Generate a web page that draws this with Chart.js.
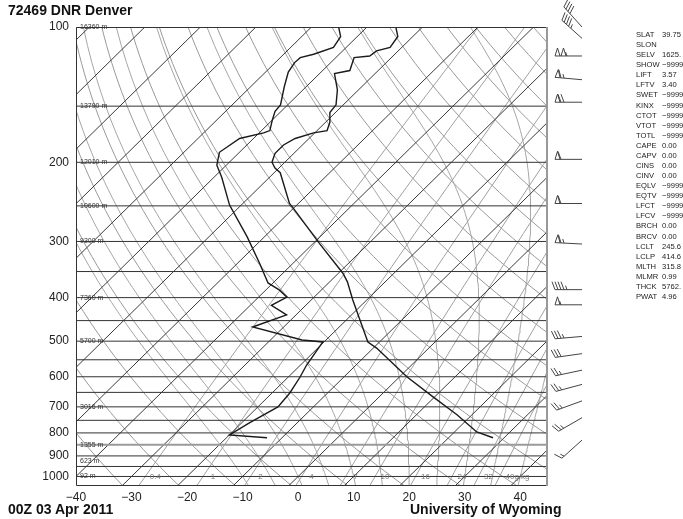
<!DOCTYPE html>
<html>
<head>
<meta charset="utf-8">
<script src="https://cdn.jsdelivr.net/npm/chart.js@4.4.0/dist/chart.umd.min.js"></script>
<style>
body { margin: 0; background: #fff; font-family: Arial, "Liberation Sans", sans-serif; }
#wrap { position: relative; width: 683px; height: 519px; overflow: hidden; }
canvas { position: absolute; left: 0; top: 0; }
.t { position: absolute; font-weight: bold; font-size: 14px; color: #111; white-space: nowrap; }
#stats { position: absolute; left: 636px; top: 30px; font-size: 7.6px; line-height: 10.08px; color: #222; white-space: nowrap; }
#stats span { display: inline-block; width: 26px; }
</style>
</head>
<body>
<div id="wrap">
  <canvas id="skewt" width="683" height="519"></canvas>
  <div class="t" style="left:8px;top:2px">72469 DNR Denver</div>
  <div class="t" style="left:8px;top:501px">00Z 03 Apr 2011</div>
  <div class="t" style="left:410px;top:501px">University of Wyoming</div>
  <div id="stats"></div>
</div>
<script>
// sounding
var tempP = [820, 796, 729, 665, 600, 518, 502, 449, 405, 369, 353, 303, 252, 247, 211, 206, 200, 191, 183, 177, 172, 170, 163, 155, 149, 138, 127, 125, 117, 116, 113, 111, 105, 100];
var tempT = [28.0, 24.0, 17.3, 9.7, 1.3, -9.4, -12.1, -17.5, -22.5, -26.8, -29.2, -38.9, -50.3, -51.6, -58.9, -60.7, -62.3, -63.4, -63.4, -62.5, -60.2, -58.2, -59.2, -61.0, -61.3, -63.8, -67.3, -65.1, -66.7, -64.2, -63.9, -62.1, -62.7, -64.8];
var dewP = [820, 808, 760, 700, 652, 600, 565, 502, 497, 465, 437, 416, 399, 385, 371, 335, 293, 249, 216, 203, 190, 177, 172, 170, 161, 154, 149, 136, 126, 120, 117, 115, 111, 105, 100];
var dewT = [-12.7, -20.0, -18.6, -16.4, -16.8, -17.9, -18.9, -20.2, -24.3, -35.6, -31.7, -36.2, -34.9, -37.5, -40.9, -46.1, -53.1, -62.1, -68.6, -71.7, -73.6, -72.5, -69.2, -68.5, -70.0, -71.1, -71.3, -73.9, -75.9, -76.5, -76.4, -74.6, -72.3, -73.0, -75.1];

// winds (direction deg, speed kt)
var windP = [100, 106, 116, 131, 147, 197, 247, 304, 384, 415, 488, 533, 580, 624, 679, 740, 830];
var windDir = [318, 312, 270, 275, 270, 270, 270, 273, 270, 270, 265, 262, 258, 255, 250, 240, 228];
var windSpd = [40, 45, 105, 65, 70, 60, 60, 65, 45, 55, 35, 30, 25, 25, 25, 25, 15];

// mandatory level heights
var hgtP = [1000, 925, 850, 700, 500, 400, 300, 250, 200, 150, 100];
var hgtM = [92, 623, 1355, 3016, 5700, 7360, 9300, 10600, 12010, 13790, 16360];

// background lines
var isobars = [100, 150, 200, 250, 300, 350, 400, 450, 500, 550, 600, 650, 700, 750, 800, 850, 900, 950, 1000];
var isotherms = [-130, -120, -110, -100, -90, -80, -70, -60, -50, -40, -30, -20, -10, 0, 10, 20, 30, 40];
var thetas = [230, 240, 250, 260, 270, 280, 290, 300, 310, 320, 330, 340, 350, 360, 370, 380, 390, 400, 410, 420, 430, 440, 450, 460];
var moistT0 = [-10, -5, 0, 5, 10, 15, 20, 25, 30, 35, 40];
var mixR = [0.4, 1, 2, 4, 7, 10, 16, 24, 32, 40];
var mixTop = 100;

var xTicks = [-40, -30, -20, -10, 0, 10, 20, 30, 40];
var yTicks = [100, 200, 300, 400, 500, 600, 700, 800, 900, 1000];

var statNames = ["SLAT", "SLON", "SELV", "SHOW", "LIFT", "LFTV", "SWET", "KINX", "CTOT", "VTOT", "TOTL", "CAPE", "CAPV", "CINS", "CINV", "EQLV", "EQTV", "LFCT", "LFCV", "BRCH", "BRCV", "LCLT", "LCLP", "MLTH", "MLMR", "THCK", "PWAT"];
var statVals = ["39.75", "", "1625.", "\u22129999", "3.57", "3.40", "\u22129999", "\u22129999", "\u22129999", "\u22129999", "\u22129999", "0.00", "0.00", "0.00", "0.00", "\u22129999", "\u22129999", "\u22129999", "\u22129999", "0.00", "0.00", "245.6", "414.6", "315.8", "0.99", "5762.", "4.96"];

var K = 82.4;
var PTOP = 100, PBOT = 1050;

function skew(t, p) {
    return t + K * Math.log10(1000 / p);
}

function logSteps(n) {
    var out = [];
    for (var i = 0; i <= n; i++) {
        out.push(PBOT * Math.pow(PTOP / PBOT, i / n));
    }
    return out;
}

function dewFromMix(w, p) {
    var e = w * p / (622 + w);
    var l = Math.log(e / 6.112);
    return 243.5 * l / (17.67 - l);
}

function moistPath(t0) {
    var Rd = 287.04, cp = 1005.7, Lv = 2.501e6, eps = 0.622;
    function rate(T, p) {
        var tc = T - 273.15;
        var es = 6.112 * Math.exp(17.67 * tc / (tc + 243.5));
        var rs = eps * es / (p - es);
        return (Rd * T + Lv * rs) / (p * (cp + Lv * Lv * rs * eps / (Rd * T * T)));
    }
    var pts = [];
    var T = t0 + 273.15, p = 1000;
    var Td = T, pd = 1000;
    while (pd < PBOT) { Td += rate(Td, pd) * 2; pd += 2; }
    pts.push({ x: skew(Td - 273.15, pd), y: pd });
    var k = 0;
    while (p > PTOP) {
        if (k % 5 === 0) pts.push({ x: skew(T - 273.15, p), y: p });
        T -= rate(T, p) * 2;
        p -= 2;
        k++;
    }
    pts.push({ x: skew(T - 273.15, p), y: p });
    return pts;
}

function lineSet(pts, color, width, order) {
    return { data: pts, borderColor: color, borderWidth: width, pointRadius: 0, showLine: true, fill: false, tension: 0, order: order, clip: 0 };
}

var datasets = [];

datasets.push(lineSet(tempP.map(function(p, i) { return { x: skew(tempT[i], p), y: p }; }), "#1a1a1a", 1.4, 0));
datasets.push(lineSet(dewP.map(function(p, i) { return { x: skew(dewT[i], p), y: p }; }), "#1a1a1a", 1.4, 0));

isobars.forEach(function(p) {
    if (p === 850) datasets.push(lineSet([{ x: -40, y: p }, { x: 45, y: p }], "#9a9a9a", 2, 5));
    else datasets.push(lineSet([{ x: -40, y: p }, { x: 45, y: p }], "#333", 1, 5));
});

isotherms.forEach(function(t) {
    datasets.push(lineSet([{ x: skew(t, PBOT), y: PBOT }, { x: skew(t, PTOP), y: PTOP }], "#3a3a3a", 1, 6));
});

thetas.forEach(function(th) {
    var pts = logSteps(50).map(function(p) {
        return { x: skew(th * Math.pow(p / 1000, 0.2857) - 273.15, p), y: p };
    });
    datasets.push(lineSet(pts, "#999", 1, 8));
});

moistT0.forEach(function(t0) {
    datasets.push(lineSet(moistPath(t0), "#a6a6a6", 1, 9));
});

mixR.forEach(function(w) {
    var pts = [];
    for (var i = 0; i <= 20; i++) {
        var p = PBOT * Math.pow(mixTop / PBOT, i / 20);
        pts.push({ x: skew(dewFromMix(w, p), p), y: p });
    }
    datasets.push(lineSet(pts, "#a0a0a0", 1, 7));
});

var extras = {
    id: "extras",
    afterDatasetsDraw: function(chart) {
        var ctx = chart.ctx, xs = chart.scales.x, ys = chart.scales.y, a = chart.chartArea;
        ctx.save();
        // frame
        ctx.strokeStyle = "#333";
        ctx.lineWidth = 1;
        ctx.beginPath();
        ctx.moveTo(a.right, a.top + 0.5);
        ctx.lineTo(a.left + 0.5, a.top + 0.5);
        ctx.lineTo(a.left + 0.5, a.bottom - 0.5);
        ctx.lineTo(a.right, a.bottom - 0.5);
        ctx.stroke();
        ctx.strokeStyle = "#999";
        ctx.lineWidth = 2;
        ctx.beginPath();
        ctx.moveTo(a.right - 1, a.top);
        ctx.lineTo(a.right - 1, a.bottom);
        ctx.stroke();

        // heights of mandatory levels
        ctx.fillStyle = "#333";
        ctx.font = "7px Arial, 'Liberation Sans', sans-serif";
        ctx.textBaseline = "middle";
        ctx.textAlign = "left";
        hgtP.forEach(function(p, i) {
            ctx.fillText(hgtM[i] + " m", a.left + 4, ys.getPixelForValue(p));
        });

        // mixing ratio labels
        ctx.fillStyle = "#777";
        ctx.font = "8px Arial, 'Liberation Sans', sans-serif";
        ctx.textAlign = "center";
        mixR.forEach(function(w, i) {
            var txt = (i === mixR.length - 1) ? w + "g/kg" : String(w);
            var px = xs.getPixelForValue(skew(dewFromMix(w, 1000), 1000)) + 10;
            if (i === mixR.length - 1) px += 8;
            ctx.fillText(txt, px, ys.getPixelForValue(1000));
        });

        // wind barbs
        ctx.strokeStyle = "#444";
        ctx.fillStyle = "#444";
        ctx.lineWidth = 1;
        var bx = a.right + 34;
        windP.forEach(function(p, i) {
            var y = ys.getPixelForValue(p);
            var d = windDir[i] * Math.PI / 180;
            var ux = Math.sin(d), uy = -Math.cos(d);
            var nx = -uy, ny = ux;
            var L = 27;
            var tx = bx + ux * L, ty = y + uy * L;
            ctx.beginPath();
            ctx.moveTo(bx, y);
            ctx.lineTo(tx, ty);
            ctx.stroke();
            var s = Math.round(windSpd[i] / 5) * 5;
            var pos = 0;
            while (s >= 50) {
                var b0x = tx - ux * pos, b0y = ty - uy * pos;
                var b1x = tx - ux * (pos + 5), b1y = ty - uy * (pos + 5);
                ctx.beginPath();
                ctx.moveTo(b0x, b0y);
                ctx.lineTo(b0x + nx * 8 - ux * 2.5, b0y + ny * 8 - uy * 2.5);
                ctx.lineTo(b1x, b1y);
                ctx.stroke();
                pos += 6;
                s -= 50;
            }
            while (s >= 10) {
                var cx = tx - ux * pos, cy = ty - uy * pos;
                ctx.beginPath();
                ctx.moveTo(cx, cy);
                ctx.lineTo(cx + nx * 8 + ux * 3, cy + ny * 8 + uy * 3);
                ctx.stroke();
                pos += 3;
                s -= 10;
            }
            if (s >= 5) {
                if (pos === 0) pos = 3;
                var hx = tx - ux * pos, hy = ty - uy * pos;
                ctx.beginPath();
                ctx.moveTo(hx, hy);
                ctx.lineTo(hx + nx * 4 + ux * 1.5, hy + ny * 4 + uy * 1.5);
                ctx.stroke();
            }
        });
        ctx.restore();
    }
};

new Chart(document.getElementById("skewt"), {
    type: "scatter",
    data: { datasets: datasets },
    options: {
        responsive: false,
        animation: false,
        events: [],
        layout: { padding: { top: 27, right: 135, left: 0, bottom: 0 } },
        plugins: { legend: { display: false }, tooltip: { enabled: false } },
        scales: {
            x: {
                type: "linear",
                min: -40,
                max: 45,
                grid: { display: false, drawTicks: false },
                border: { display: false },
                afterBuildTicks: function(scale) { scale.ticks = xTicks.map(function(v) { return { value: v }; }); },
                afterFit: function(scale) { scale.height = 33; },
                ticks: {
                    padding: 4,
                    color: "#222",
                    font: { size: 12, family: "Arial, 'Liberation Sans', sans-serif" },
                    maxRotation: 0,
                    callback: function(v) { return String(v).replace("-", "\u2212"); }
                }
            },
            y: {
                type: "logarithmic",
                min: PTOP,
                max: PBOT,
                reverse: true,
                grid: { display: false, drawTicks: false },
                border: { display: false },
                afterBuildTicks: function(scale) { scale.ticks = yTicks.map(function(v) { return { value: v }; }); },
                afterFit: function(scale) { scale.width = 76; },
                ticks: {
                    padding: 7,
                    color: "#222",
                    font: { size: 12, family: "Arial, 'Liberation Sans', sans-serif" },
                    callback: function(v) { return String(v); }
                }
            }
        }
    },
    plugins: [extras]
});

var st = document.getElementById("stats");
st.innerHTML = statNames.map(function(n, i) { return "<span>" + n + "</span>" + statVals[i]; }).join("<br>");
</script>
</body>
</html>
